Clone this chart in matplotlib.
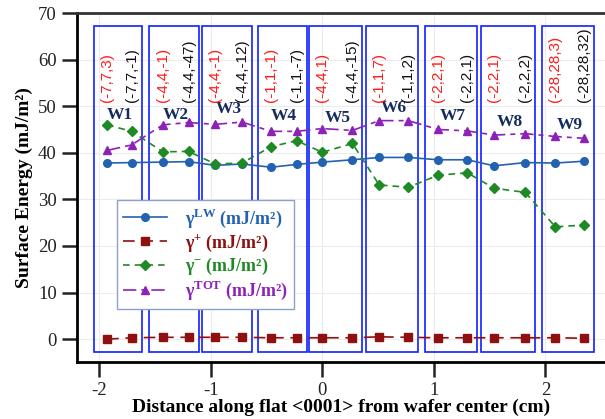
import matplotlib
matplotlib.use("Agg")
import matplotlib.pyplot as plt
from matplotlib.patches import Rectangle

# positions along the flat (cm), two per wafer
dist = [-1.93, -1.71, -1.43, -1.20, -0.96, -0.72, -0.46, -0.23, 0.00,
        0.27, 0.51, 0.77, 1.04, 1.30, 1.54, 1.82, 2.09, 2.35]

# surface energy components (mJ/m2)
g_lw = [37.8, 37.9, 38.0, 38.1, 37.3, 37.6, 36.9, 37.5, 38.0,
        38.5, 39.0, 39.0, 38.5, 38.5, 37.2, 37.9, 37.8, 38.2]
g_plus = [0.0, 0.3, 0.4, 0.4, 0.4, 0.4, 0.3, 0.3, 0.3,
          0.3, 0.5, 0.4, 0.3, 0.3, 0.3, 0.3, 0.3, 0.2]
g_minus = [46.0, 44.6, 40.2, 40.3, 37.6, 37.8, 41.3, 42.6, 40.1,
           42.0, 33.1, 32.6, 35.2, 35.7, 32.4, 31.5, 24.1, 24.5]
g_tot = [40.5, 41.7, 46.0, 46.5, 46.1, 46.6, 44.6, 44.6, 45.2,
         44.8, 46.9, 46.9, 45.0, 44.7, 43.8, 44.1, 43.5, 43.1]

wafers = ["W1", "W2", "W3", "W4", "W5", "W6", "W7", "W8", "W9"]
wafer_label_y = [48.2, 48.2, 49.3, 47.8, 47.4, 49.6, 47.9, 46.5, 45.9]
planes_red = ["(-7,7,3)", "(-4,4,-1)", "(-4,4,-1)", "(-1,1,-1)", "(-4,4,1)",
              "(-1,1,7)", "(-2,2,1)", "(-2,2,1)", "(-28,28,3)"]
planes_black = ["(-7,7,-1)", "(-4,4,-47)", "(-4,4,-12)", "(-1,1,-7)", "(-4,4,-15)",
                "(-1,1,2)", "(-2,2,1)", "(-2,2,2)", "(-28,28,32)"]

c_lw = "#2262b0"
c_plus = "#8e1010"
c_minus = "#1e8a26"
c_tot = "#8d22b8"
c_box = "#1020ff"
serif = ["Liberation Serif", "DejaVu Serif"]

plt.rcParams["font.family"] = serif
plt.rcParams["mathtext.fontset"] = "custom"
plt.rcParams["mathtext.rm"] = "Liberation Serif"
plt.rcParams["mathtext.bf"] = "Liberation Serif:bold"

fig = plt.figure(figsize=(6.05, 4.19), dpi=100)
ax = fig.add_axes([77 / 605, 57 / 419, 528 / 605, 349 / 419])

ax.grid(True, color="#ececec", linewidth=0.8)
ax.set_axisbelow(True)

ax.plot(dist, g_lw, color=c_lw, marker="o", markersize=5.5, linewidth=1.2,
        label=r"γ$^{\mathbf{LW}}$ (mJ/m²)", zorder=3)
ax.plot(dist, g_plus, color=c_plus, marker="s", markersize=5.5, linewidth=1.2,
        dashes=(7, 4), label=r"γ$^{\mathbf{+}}$ (mJ/m²)", zorder=3)
ax.plot(dist, g_minus, color=c_minus, marker="D", markersize=5, linewidth=1.2,
        dashes=(4, 3), label=r"γ$^{\mathbf{-}}$ (mJ/m²)", zorder=3)
ax.plot(dist, g_tot, color=c_tot, marker="^", markersize=6, linewidth=1.2,
        dashes=(8, 3, 3, 3), label=r"γ$^{\mathbf{TOT}}$ (mJ/m²)", zorder=3)

# boxes around each wafer's pair of points, with labels
for i, w in enumerate(wafers):
    x1, x2 = dist[2 * i], dist[2 * i + 1]
    ax.add_patch(Rectangle((x1 - 0.12, -2.8), (x2 - x1) + 0.21, 70.0,
                           fill=False, edgecolor=c_box, linewidth=1.2, zorder=2))
    ax.text((x1 + x2) / 2, wafer_label_y[i], w, ha="center", va="center",
            fontsize=12.5, fontweight="bold", color="#162c5e", family=serif)
    ax.text(x1, 50.8, planes_red[i], rotation=90, ha="center", va="bottom",
            fontsize=11, color="#ff1a1a", family="Liberation Sans")
    ax.text(x2, 50.8, planes_black[i], rotation=90, ha="center", va="bottom",
            fontsize=11, color="#111111", family="Liberation Sans")

ax.set_xlim(-2.2, 2.535)
ax.set_ylim(-4.9, 70)
ax.set_xticks([-2, -1, 0, 1, 2])
ax.set_xticklabels(["-2", "-1", "0", "1", "2"])
ax.set_yticks([0, 10, 20, 30, 40, 50, 60, 70])
ax.tick_params(axis="both", direction="out", length=11, width=1.8,
               labelsize=13.5, colors="#222222")

ax.spines["right"].set_visible(False)
ax.spines["left"].set_linewidth(2)
ax.spines["bottom"].set_linewidth(2)
ax.spines["top"].set_linewidth(2)
ax.spines["top"].set_color("#333333")

ax.set_xlabel("Distance along flat <0001> from wafer center (cm)",
              fontsize=14, fontweight="bold", labelpad=0)
ax.set_ylabel("Surface Energy (mJ/m²)", fontsize=14, fontweight="bold", labelpad=4)

leg = ax.legend(loc="upper left", bbox_to_anchor=(0.0758, 0.464), borderaxespad=0,
                handlelength=2.4, borderpad=0.35, labelspacing=0.12,
                handletextpad=1.0, fancybox=False, framealpha=1, edgecolor="#8da0c8",
                prop={"family": serif, "weight": "bold", "size": 13})
for t, c in zip(leg.get_texts(), [c_lw, c_plus, c_minus, c_tot]):
    t.set_color(c)
leg.set_zorder(5)

fig.savefig("out.png", dpi=100)
